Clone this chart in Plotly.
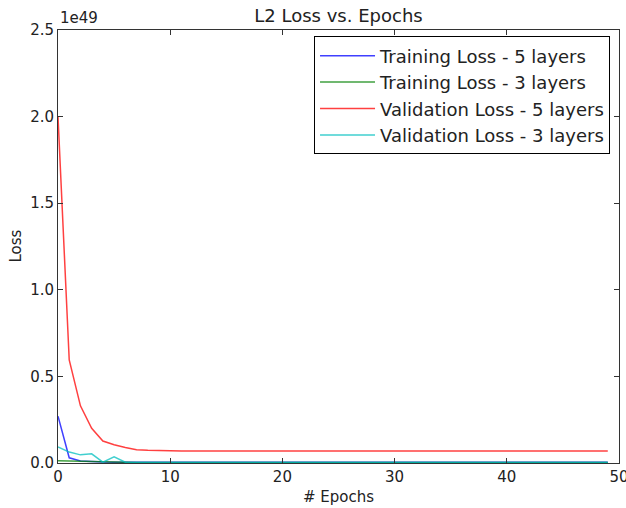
import plotly.graph_objects as go

epochs = list(range(50))
# losses in units of 1e49
train_loss_5 = [0.27, 0.030, 0.012, 0.008, 0.006, 0.005, 0.005, 0.004, 0.004, 0.004,
                0.004, 0.004, 0.004, 0.004, 0.004, 0.004, 0.004, 0.004, 0.004, 0.004,
                0.004, 0.004, 0.004, 0.004, 0.004, 0.004, 0.004, 0.004, 0.004, 0.004,
                0.004, 0.004, 0.004, 0.004, 0.004, 0.004, 0.004, 0.004, 0.004, 0.004,
                0.004, 0.004, 0.004, 0.004, 0.004, 0.004, 0.004, 0.004, 0.004, 0.004]
train_loss_3 = [0.013, 0.011, 0.009, 0.007, 0.005, 0.004, 0.004, 0.003, 0.003, 0.003,
                0.003, 0.003, 0.003, 0.003, 0.003, 0.003, 0.003, 0.003, 0.003, 0.003,
                0.003, 0.003, 0.003, 0.003, 0.003, 0.003, 0.003, 0.003, 0.003, 0.003,
                0.003, 0.003, 0.003, 0.003, 0.003, 0.003, 0.003, 0.003, 0.003, 0.003,
                0.003, 0.003, 0.003, 0.003, 0.003, 0.003, 0.003, 0.003, 0.003, 0.003]
val_loss_5 = [2.00, 0.595, 0.330, 0.200, 0.127, 0.105, 0.090, 0.077, 0.073, 0.071,
              0.070, 0.069, 0.070, 0.069, 0.069, 0.069, 0.068, 0.069, 0.069, 0.069,
              0.069, 0.069, 0.069, 0.069, 0.068, 0.069, 0.069, 0.068, 0.069, 0.069,
              0.070, 0.068, 0.069, 0.069, 0.069, 0.069, 0.069, 0.068, 0.069, 0.069,
              0.069, 0.069, 0.070, 0.069, 0.069, 0.069, 0.069, 0.068, 0.069, 0.069]
val_loss_3 = [0.093, 0.063, 0.047, 0.053, 0.005, 0.035, 0.005, 0.003, 0.003, 0.003,
              0.003, 0.003, 0.003, 0.003, 0.003, 0.003, 0.003, 0.003, 0.003, 0.003,
              0.003, 0.003, 0.003, 0.003, 0.003, 0.003, 0.003, 0.003, 0.003, 0.003,
              0.003, 0.003, 0.003, 0.003, 0.003, 0.003, 0.003, 0.003, 0.003, 0.003,
              0.003, 0.003, 0.003, 0.003, 0.003, 0.003, 0.003, 0.003, 0.003, 0.003]

series = [
    ("Training Loss - 5 layers", train_loss_5, "rgba(0,0,255,0.75)"),
    ("Training Loss - 3 layers", train_loss_3, "rgba(0,128,0,0.75)"),
    ("Validation Loss - 5 layers", val_loss_5, "rgba(255,0,0,0.75)"),
    ("Validation Loss - 3 layers", val_loss_3, "rgba(0,191,191,0.75)"),
]

FONT = "DejaVu Sans"
L, R, T, B = 58, 7, 30, 45
W, H = 626, 508

fig = go.Figure()
for name, vals, col in series:
    fig.add_trace(go.Scatter(x=epochs, y=vals, mode="lines", name=name,
                             line=dict(color=col, width=1.5)))

axis_common = dict(showline=True, linecolor="#333", linewidth=1, mirror="ticks",
                   ticks="inside", ticklen=5, tickcolor="#333", showgrid=False,
                   zeroline=False, automargin=False, ticklabeloverflow="allow",
                   tickfont=dict(family=FONT, size=15, color="#222"))

fig.update_layout(
    width=W, height=H,
    margin=dict(l=L, r=R, t=T, b=B),
    paper_bgcolor="white", plot_bgcolor="white",
    font=dict(family=FONT, color="#222"),
    title=dict(text="L2 Loss vs. Epochs", x=(L + W - R) / 2 / W, xanchor="center",
               y=1 - 16 / H, yanchor="middle", font=dict(family=FONT, size=18, color="#222")),
    xaxis=dict(range=[0, 50], dtick=10, **axis_common),
    yaxis=dict(range=[0, 2.5], dtick=0.5, tickformat=".1f", **axis_common),
    legend=dict(x=0.984, y=0.985, xanchor="right", yanchor="top",
                bordercolor="black", borderwidth=1, bgcolor="white", itemwidth=55,
                font=dict(family=FONT, size=18, color="#222")),
    showlegend=True,
)
fig.add_annotation(text="1e49", xref="paper", yref="paper", x=0, y=1,
                   xanchor="left", yanchor="bottom", yshift=1, showarrow=False,
                   font=dict(family=FONT, size=15, color="#222"))
fig.add_annotation(text="# Epochs", xref="paper", yref="paper", x=0.5, y=0,
                   xanchor="center", yanchor="middle", yshift=-34, showarrow=False,
                   font=dict(family=FONT, size=15, color="#222"))
fig.add_annotation(text="Loss", xref="paper", yref="paper", x=0, y=0.5, textangle=-90,
                   xanchor="center", yanchor="middle", xshift=-43, showarrow=False,
                   font=dict(family=FONT, size=15, color="#222"))
fig.write_html("out.html", config={"displayModeBar": False},
               post_script="document.body.style.margin='0';")
